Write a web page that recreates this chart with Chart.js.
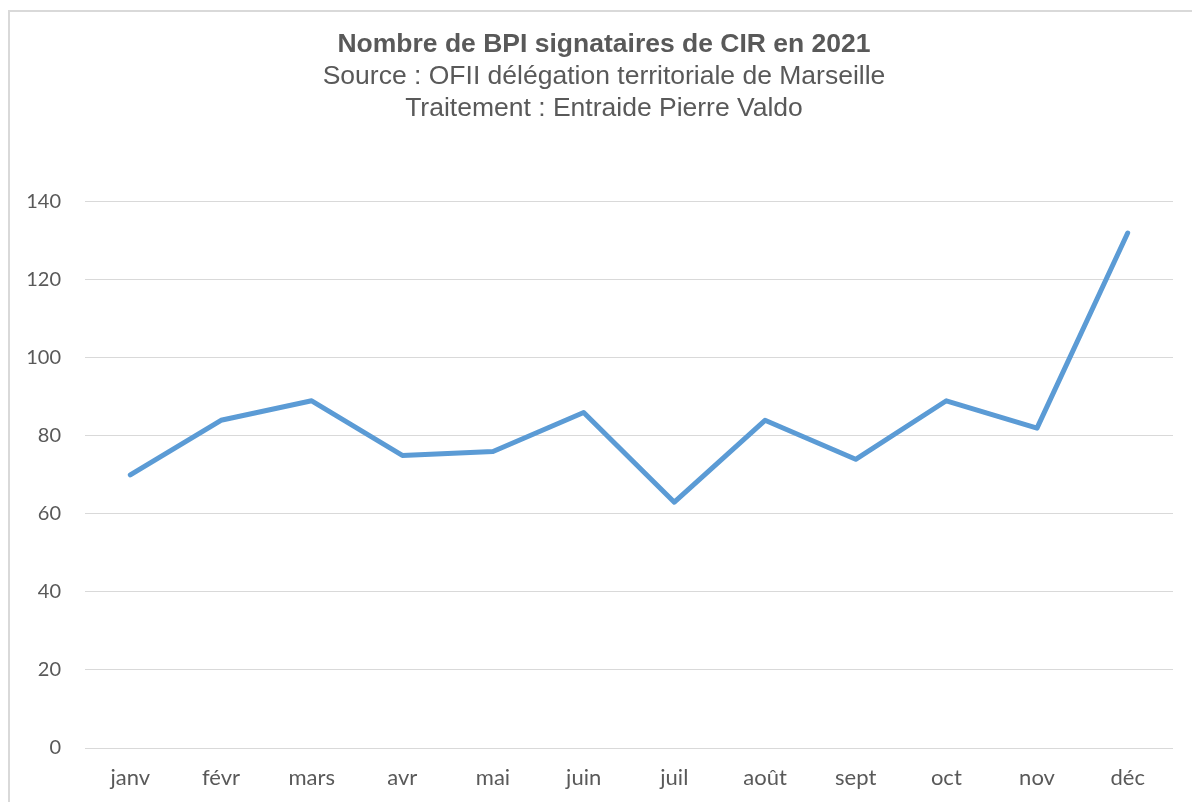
<!DOCTYPE html>
<html>
<head>
<meta charset="utf-8">
<script src="https://cdn.jsdelivr.net/npm/chart.js@4"></script>
<style>
  html, body { margin: 0; padding: 0; background: #fff; }
  #frame {
    position: absolute; left: 8px; top: 10px;
    width: 1184px; height: 792px;
    border-left: 2px solid #d9d9d9; border-top: 2px solid #d9d9d9;
  }
  #wrap { position: absolute; left: 10px; top: 12px; width: 1182px; height: 790px; }
</style>
</head>
<body>
<div id="frame"></div>
<div id="wrap"><canvas id="chart"></canvas></div>
<script>
// months and monthly counts
const months = ['janv', 'févr', 'mars', 'avr', 'mai', 'juin', 'juil', 'août', 'sept', 'oct', 'nov', 'déc'];
const signataires = [70, 84, 89, 75, 76, 86, 63, 84, 74, 89, 82, 132];
const yTicks = [0, 20, 40, 60, 80, 100, 120, 140];

const grey = '#595959';

// nudge the centred title/subtitle a bit right, like in the original
const shiftTitles = {
  id: 'shiftTitles',
  afterLayout(chart) {
    chart.boxes.forEach(b => {
      if (b.position === 'top' && b.options && b.options.text !== undefined) b.left += 25;
    });
  }
};

new Chart(document.getElementById('chart'), {
  type: 'line',
  data: {
    labels: months,
    datasets: [{
      label: 'BPI signataires',
      data: signataires,
      borderColor: '#5b9bd5',
      backgroundColor: '#5b9bd5',
      borderWidth: 5,
      tension: 0,
      pointRadius: 0,
      borderCapStyle: 'round',
      borderJoinStyle: 'round'
    }]
  },
  options: {
    responsive: true,
    maintainAspectRatio: false,
    animation: false,
    layout: { padding: { left: 0, right: 19, top: 0, bottom: 0 } },
    plugins: {
      legend: { display: false },
      tooltip: { enabled: false },
      title: {
        display: true,
        text: 'Nombre de BPI signataires de CIR en 2021',
        color: grey,
        font: { family: 'Liberation Sans, Arial, sans-serif', size: 26.5, weight: 'bold', lineHeight: 1.2 },
        padding: { top: 17, bottom: 0 }
      },
      subtitle: {
        display: true,
        text: ['Source : OFII délégation territoriale de Marseille', 'Traitement : Entraide Pierre Valdo'],
        color: grey,
        font: { family: 'Liberation Sans, Arial, sans-serif', size: 26.5, lineHeight: 1.2075 },
        padding: { top: 0, bottom: 77 }
      }
    },
    scales: {
      x: {
        offset: true,
        grid: { display: false, drawTicks: false },
        border: { display: false },
        ticks: { color: grey, font: { family: 'Lato, sans-serif', size: 22 }, padding: 17, maxRotation: 0 },
        afterFit: (s) => { s.height = 54; }
      },
      y: {
        min: 0,
        max: 140,
        afterBuildTicks: (s) => { s.ticks = yTicks.map(v => ({ value: v })); },
        grid: { color: '#d9d9d9', lineWidth: 1, drawTicks: false },
        border: { display: false },
        ticks: { color: grey, font: { family: 'Lato, sans-serif', size: 20 }, padding: 24 },
        afterFit: (s) => { s.width = 75; }
      }
    }
  },
  plugins: [shiftTitles]
});
</script>
</body>
</html>
